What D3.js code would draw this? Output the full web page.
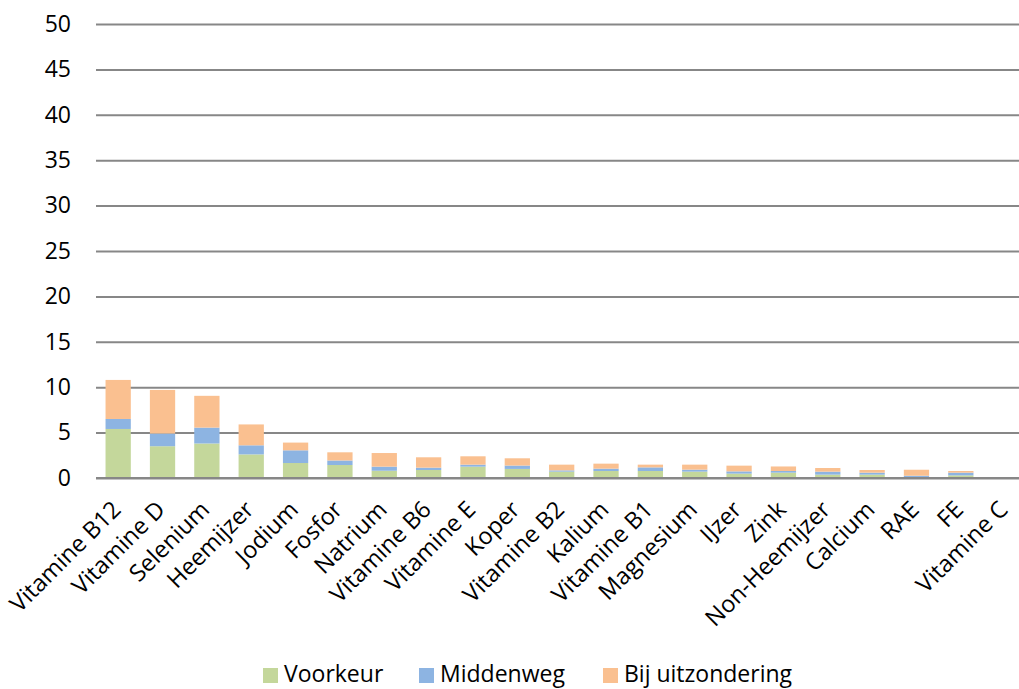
<!DOCTYPE html>
<html>
<head>
<meta charset="utf-8">
<script src="https://cdn.jsdelivr.net/npm/d3@7"></script>
<style>
  html, body { margin: 0; padding: 0; background: #fff; }
  svg { display: block; font-family: "Open Sans", "Liberation Sans", sans-serif; }
</style>
</head>
<body>
<svg id="chart" width="1019" height="689"></svg>
<script>
// Nutrients, ordered by total
const categories = ["Vitamine B12", "Vitamine D", "Selenium", "Heemijzer", "Jodium", "Fosfor",
  "Natrium", "Vitamine B6", "Vitamine E", "Koper", "Vitamine B2", "Kalium", "Vitamine B1",
  "Magnesium", "IJzer", "Zink", "Non-Heemijzer", "Calcium", "RAE", "FE", "Vitamine C"];

const voorkeur = [5.4, 3.5, 3.8, 2.6, 1.65, 1.43, 0.8, 0.88, 1.25, 1.0, 0.7, 0.77, 0.77,
  0.7, 0.48, 0.59, 0.37, 0.37, 0.05, 0.29, 0];
const middenweg = [1.1, 1.4, 1.75, 1.0, 1.4, 0.5, 0.45, 0.26, 0.22, 0.37, 0.14, 0.26, 0.4,
  0.22, 0.25, 0.18, 0.33, 0.22, 0.2, 0.3, 0];
const bijUitzondering = [4.3, 4.8, 3.5, 2.3, 0.85, 0.9, 1.5, 1.14, 0.92, 0.8, 0.63, 0.55, 0.3,
  0.55, 0.63, 0.5, 0.4, 0.29, 0.66, 0.18, 0];

const seriesNames = ["Voorkeur", "Middenweg", "Bij uitzondering"];
const seriesColors = ["#c4d79b", "#8db4e2", "#fac090"];
const yTicks = [0, 5, 10, 15, 20, 25, 30, 35, 40, 45, 50];

const rows = categories.map((c, i) => ({
  cat: c, Voorkeur: voorkeur[i], Middenweg: middenweg[i], "Bij uitzondering": bijUitzondering[i]
}));

const svg = d3.select("#chart");
const plotLeft = 96, plotTop = 24, plotBottom = 478;
const band = 44.35;
const x = d3.scaleBand().domain(categories)
  .range([plotLeft, plotLeft + band * categories.length]).paddingInner(0.43).paddingOuter(0.215);
const y = d3.scaleLinear().domain([0, 50]).range([plotBottom, plotTop]);

// Gridlines and value labels
const yAxis = svg.append("g")
  .attr("transform", `translate(${plotLeft},0)`)
  .call(d3.axisLeft(y).tickValues(yTicks).tickSize(-(1019 - plotLeft)).tickPadding(25));
yAxis.select(".domain").remove();
yAxis.selectAll(".tick line").attr("stroke", "#878787").attr("stroke-width", 2);
yAxis.selectAll(".tick text").attr("font-size", 23).attr("fill", "#000")
  .attr("font-family", "'Open Sans', sans-serif");

// Stacked bars
const stack = d3.stack().keys(seriesNames)(rows);
svg.append("g").selectAll("g").data(stack).join("g")
  .attr("fill", (d, i) => seriesColors[i])
  .selectAll("rect").data(d => d).join("rect")
  .attr("x", d => x(d.data.cat))
  .attr("width", x.bandwidth())
  .attr("y", d => y(d[1]))
  .attr("height", d => Math.max(0, y(d[0]) - y(d[1])));

// Baseline drawn over the bars
svg.append("line").attr("x1", plotLeft).attr("x2", 1019)
  .attr("y1", y(0)).attr("y2", y(0)).attr("stroke", "#878787").attr("stroke-width", 2);

// Category labels, rotated
const xAxis = svg.append("g")
  .attr("transform", `translate(0,${plotBottom})`)
  .call(d3.axisBottom(x).tickSize(0).tickPadding(0));
xAxis.select(".domain").remove();
xAxis.selectAll(".tick text")
  .attr("font-size", 23.5).attr("fill", "#000")
  .attr("font-family", "'Open Sans', sans-serif")
  .attr("text-anchor", "end")
  .attr("y", 0)
  .attr("dy", null)
  .attr("transform", "translate(4,33) rotate(-45)");

// Legend
const legendX = [263, 419, 603];
const legend = svg.append("g");
seriesNames.forEach((name, i) => {
  legend.append("rect").attr("x", legendX[i]).attr("y", 668).attr("width", 15).attr("height", 15)
    .attr("fill", seriesColors[i]);
  legend.append("text").attr("x", legendX[i] + 21).attr("y", 682)
    .attr("font-size", 23).attr("fill", "#000").text(name);
});
</script>
</body>
</html>
